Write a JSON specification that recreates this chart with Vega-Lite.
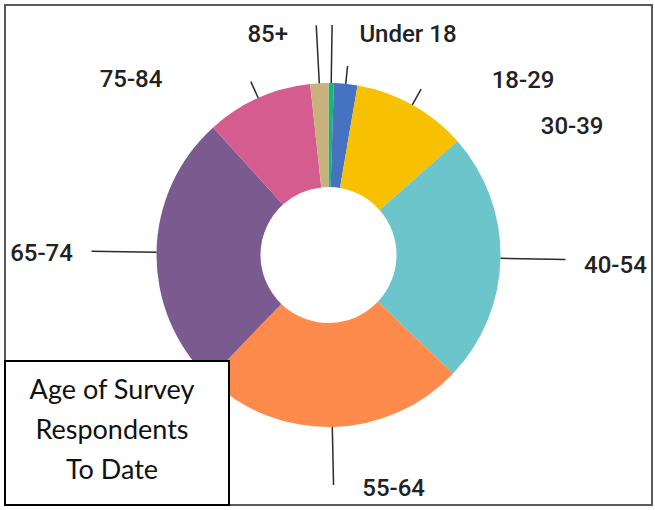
{
  "$schema": "https://vega.github.io/schema/vega-lite/v6.json",
  "width": 647,
  "height": 500,
  "autosize": "none",
  "padding": {"left": 5, "top": 5, "right": 3, "bottom": 5},
  "background": "white",
  "view": {"stroke": "#5a5a5a", "strokeWidth": 2},
  "data": {
    "values": [
      {"age": "Under 18", "pct": 0.5, "i": 1},
      {"age": "18-29", "pct": 2.2, "i": 2},
      {"age": "30-39", "pct": 10.8, "i": 3},
      {"age": "40-54", "pct": 23.6, "i": 4},
      {"age": "55-64", "pct": 25.1, "i": 5},
      {"age": "65-74", "pct": 26.1, "i": 6},
      {"age": "75-84", "pct": 10.0, "i": 7},
      {"age": "85+", "pct": 1.7, "i": 8}
    ]
  },
  "encoding": {
    "theta": {"field": "pct", "type": "quantitative", "stack": true},
    "order": {"field": "i", "type": "quantitative"},
    "detail": {"field": "age", "type": "nominal"}
  },
  "layer": [
    {
      "mark": {"type": "arc", "outerRadius": 172, "innerRadius": 68},
      "encoding": {
        "color": {
          "field": "age",
          "type": "nominal",
          "scale": {
            "domain": ["Under 18", "18-29", "30-39", "40-54", "55-64", "65-74", "75-84", "85+"],
            "range": ["#19b47a", "#4672c2", "#f7c000", "#6cc5ca", "#fe8a4b", "#7b5a8f", "#d55c8f", "#c8b17c"]
          },
          "legend": null
        }
      }
    },
    {
      "mark": {"type": "arc", "outerRadius": 230, "innerRadius": 172, "padAngle": 3, "strokeWidth": 1.5, "fillOpacity": 0},
      "encoding": {
        "stroke": {
          "field": "pct", "type": "quantitative",
          "scale": {"range": ["#2b2b2b", "#2b2b2b"]},
          "legend": {
            "title": ["Age of Survey", "Respondents", "To Date"],
            "orient": "bottom-left", "offset": 0, "direction": "horizontal",
            "gradientLength": 204, "gradientThickness": 16, "gradientOpacity": 0, "gradientStrokeWidth": 0,
            "labelExpr": "''", "labelFontSize": 1, "labelOffset": 0, "labelOpacity": 0,
            "padding": 10, "strokeColor": "black", "fillColor": "white",
            "titleFont": "Lato", "titleFontSize": 27, "titleFontWeight": "normal", "titleColor": "#111111",
            "titleLineHeight": 40, "titleAnchor": "middle", "titleAlign": "center", "titleBaseline": "line-top",
            "titleLimit": 400, "titlePadding": 0,
            "encode": {"legend": {"update": {"strokeWidth": {"value": 2}}}}
          }
        },
        "strokeOpacity": {"condition": {"test": "datum.age === 'Under 18' || datum.age === '85+' || datum.age === '55-64'", "value": 1}, "value": 0}
      }
    },
    {
      "mark": {"type": "arc", "outerRadius": 237, "innerRadius": 172, "padAngle": 3, "strokeWidth": 1.5, "fillOpacity": 0},
      "encoding": {
        "stroke": {
          "field": "pct", "type": "quantitative",
          "scale": {"range": ["#2b2b2b", "#2b2b2b"]},
          "legend": {
            "title": ["Age of Survey", "Respondents", "To Date"],
            "orient": "bottom-left", "offset": 0, "direction": "horizontal",
            "gradientLength": 204, "gradientThickness": 16, "gradientOpacity": 0, "gradientStrokeWidth": 0,
            "labelExpr": "''", "labelFontSize": 1, "labelOffset": 0, "labelOpacity": 0,
            "padding": 10, "strokeColor": "black", "fillColor": "white",
            "titleFont": "Lato", "titleFontSize": 27, "titleFontWeight": "normal", "titleColor": "#111111",
            "titleLineHeight": 40, "titleAnchor": "middle", "titleAlign": "center", "titleBaseline": "line-top",
            "titleLimit": 400, "titlePadding": 0,
            "encode": {"legend": {"update": {"strokeWidth": {"value": 2}}}}
          }
        },
        "strokeOpacity": {"condition": {"test": "datum.age === '40-54' || datum.age === '65-74'", "value": 1}, "value": 0}
      }
    },
    {
      "mark": {"type": "arc", "outerRadius": 190, "innerRadius": 172, "padAngle": 3, "strokeWidth": 1.5, "fillOpacity": 0},
      "encoding": {
        "stroke": {
          "field": "pct", "type": "quantitative",
          "scale": {"range": ["#2b2b2b", "#2b2b2b"]},
          "legend": {
            "title": ["Age of Survey", "Respondents", "To Date"],
            "orient": "bottom-left", "offset": 0, "direction": "horizontal",
            "gradientLength": 204, "gradientThickness": 16, "gradientOpacity": 0, "gradientStrokeWidth": 0,
            "labelExpr": "''", "labelFontSize": 1, "labelOffset": 0, "labelOpacity": 0,
            "padding": 10, "strokeColor": "black", "fillColor": "white",
            "titleFont": "Lato", "titleFontSize": 27, "titleFontWeight": "normal", "titleColor": "#111111",
            "titleLineHeight": 40, "titleAnchor": "middle", "titleAlign": "center", "titleBaseline": "line-top",
            "titleLimit": 400, "titlePadding": 0,
            "encode": {"legend": {"update": {"strokeWidth": {"value": 2}}}}
          }
        },
        "strokeOpacity": {"condition": {"test": "datum.age === '18-29' || datum.age === '30-39' || datum.age === '75-84'", "value": 1}, "value": 0}
      }
    },
    {
      "mark": {"type": "text", "radius": 220, "dx": 76, "dy": 0, "font": "Roboto", "fontWeight": 500, "fontSize": 24, "color": "#222222"},
      "encoding": {"text": {"field": "age", "type": "nominal"}, "opacity": {"condition": {"test": "datum.age === 'Under 18'", "value": 1}, "value": 0}}
    },
    {
      "mark": {"type": "text", "radius": 220, "dx": -49, "dy": 0, "font": "Roboto", "fontWeight": 500, "fontSize": 24, "color": "#222222"},
      "encoding": {"text": {"field": "age", "type": "nominal"}, "opacity": {"condition": {"test": "datum.age === '85+'", "value": 1}, "value": 0}}
    },
    {
      "mark": {"type": "text", "radius": 175, "dx": 177, "dy": 0, "font": "Roboto", "fontWeight": 500, "fontSize": 24, "color": "#222222"},
      "encoding": {"text": {"field": "age", "type": "nominal"}, "opacity": {"condition": {"test": "datum.age === '18-29'", "value": 1}, "value": 0}}
    },
    {
      "mark": {"type": "text", "radius": 147, "dx": 172, "dy": 0, "font": "Roboto", "fontWeight": 500, "fontSize": 24, "color": "#222222"},
      "encoding": {"text": {"field": "age", "type": "nominal"}, "opacity": {"condition": {"test": "datum.age === '30-39'", "value": 1}, "value": 0}}
    },
    {
      "mark": {"type": "text", "radius": 287, "dx": 0, "dy": 6, "font": "Roboto", "fontWeight": 500, "fontSize": 24, "color": "#222222"},
      "encoding": {"text": {"field": "age", "type": "nominal"}, "opacity": {"condition": {"test": "datum.age === '40-54'", "value": 1}, "value": 0}}
    },
    {
      "mark": {"type": "text", "radius": 234, "dx": 60, "dy": 0, "font": "Roboto", "fontWeight": 500, "fontSize": 24, "color": "#222222"},
      "encoding": {"text": {"field": "age", "type": "nominal"}, "opacity": {"condition": {"test": "datum.age === '55-64'", "value": 1}, "value": 0}}
    },
    {
      "mark": {"type": "text", "radius": 287, "dx": 0, "dy": 4, "font": "Roboto", "fontWeight": 500, "fontSize": 24, "color": "#222222"},
      "encoding": {"text": {"field": "age", "type": "nominal"}, "opacity": {"condition": {"test": "datum.age === '65-74'", "value": 1}, "value": 0}}
    },
    {
      "mark": {"type": "text", "radius": 192, "dx": -119, "dy": 0, "font": "Roboto", "fontWeight": 500, "fontSize": 24, "color": "#222222"},
      "encoding": {"text": {"field": "age", "type": "nominal"}, "opacity": {"condition": {"test": "datum.age === '75-84'", "value": 1}, "value": 0}}
    }
  ]
}
